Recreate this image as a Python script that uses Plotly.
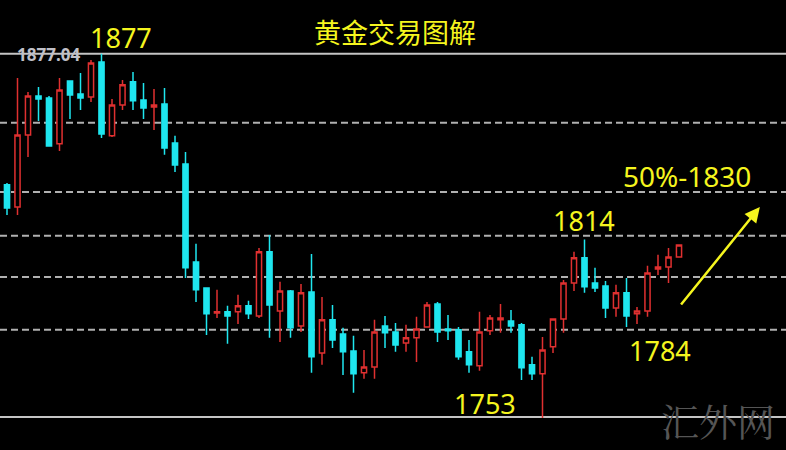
import plotly.graph_objects as go

# Candle data (gold)
opens = [1832.9, 1825.4, 1849.7, 1862.8, 1862.2, 1846.7, 1867.9, 1863.5, 1862.5, 1874.3,
         1849.4, 1859.8, 1867.6, 1861.5, 1859.1, 1860.1, 1847.0, 1839.9, 1806.9, 1798.1,
         1789.7, 1790.1, 1790.1, 1792.1, 1788.7, 1810.3, 1790.4, 1797.1, 1785.3, 1796.8,
         1776.2, 1787.4, 1782.6, 1776.9, 1769.5, 1771.5, 1785.3, 1783.3, 1779.6, 1781.3,
         1785.0, 1792.7, 1784.3, 1784.0, 1776.6, 1771.9, 1783.7, 1787.4, 1787.0, 1785.7,
         1772.2, 1769.2, 1778.3, 1787.7, 1799.8, 1808.3, 1799.8, 1798.8, 1791.4, 1796.5,
         1789.4, 1790.4, 1804.5, 1805.2, 1808.6]
highs = [1833.5, 1868.9, 1864.2, 1865.9, 1862.8, 1868.9, 1867.9, 1870.6, 1875.0, 1877.04,
         1861.8, 1868.2, 1870.9, 1867.2, 1865.2, 1865.5, 1849.4, 1844.0, 1813.0, 1798.1,
         1797.5, 1792.1, 1795.8, 1793.8, 1811.6, 1816.0, 1800.2, 1797.4, 1799.5, 1809.6,
         1795.1, 1792.4, 1784.7, 1782.0, 1777.2, 1787.4, 1788.7, 1786.3, 1785.7, 1788.4,
         1793.4, 1793.4, 1789.0, 1785.0, 1780.6, 1790.1, 1789.0, 1792.7, 1790.7, 1786.3,
         1774.9, 1781.6, 1787.9, 1800.8, 1810.3, 1814.5, 1804.9, 1800.5, 1799.2, 1801.5,
         1791.7, 1805.6, 1809.3, 1811.6, 1812.6]
lows = [1822.7, 1822.7, 1842.3, 1854.4, 1845.7, 1844.3, 1855.1, 1858.1, 1860.8, 1848.7,
        1849.0, 1858.1, 1858.1, 1855.1, 1851.4, 1843.0, 1837.2, 1801.5, 1793.4, 1782.3,
        1788.0, 1779.3, 1786.0, 1787.7, 1788.0, 1781.3, 1779.9, 1781.3, 1783.3, 1769.5,
        1772.2, 1777.9, 1768.8, 1762.8, 1767.5, 1767.5, 1777.9, 1776.6, 1776.6, 1773.2,
        1784.7, 1779.9, 1780.6, 1773.9, 1769.5, 1770.2, 1782.3, 1783.0, 1783.0, 1767.1,
        1767.1, 1754.3, 1776.2, 1783.0, 1797.1, 1796.5, 1796.8, 1788.0, 1788.4, 1785.0,
        1786.0, 1788.4, 1802.5, 1799.8, 1808.4]
closes = [1825.1, 1849.7, 1862.8, 1861.8, 1846.0, 1864.9, 1863.2, 1862.2, 1874.0, 1850.0,
          1859.8, 1866.6, 1861.2, 1858.8, 1859.8, 1845.3, 1839.6, 1804.9, 1797.5, 1789.4,
          1790.1, 1788.7, 1792.1, 1789.4, 1810.3, 1792.4, 1797.1, 1784.7, 1796.5, 1774.9,
          1787.4, 1780.6, 1776.6, 1769.2, 1771.5, 1783.3, 1783.0, 1778.9, 1781.3, 1784.3,
          1792.4, 1783.3, 1783.7, 1774.9, 1772.2, 1783.3, 1788.0, 1788.0, 1785.3, 1771.2,
          1769.2, 1777.2, 1787.7, 1799.8, 1808.3, 1798.5, 1798.1, 1791.4, 1796.5, 1788.7,
          1790.4, 1803.2, 1805.2, 1808.6, 1812.6]
bars = list(range(len(opens)))

dashed_levels = [1853.8, 1830.5, 1815.7, 1801.8, 1784.0]
solid_levels = [1877.04, 1754.6]
high_label = "1877.04"

RED = "#e03030"
CYAN = "#1fe6ef"
YEL = "#f5f51e"

fig = go.Figure()
fig.add_trace(go.Candlestick(
    x=bars, open=opens, high=highs, low=lows, close=closes,
    increasing=dict(line=dict(color=RED, width=1.5), fillcolor="black"),
    decreasing=dict(line=dict(color=CYAN, width=1.5), fillcolor=CYAN),
    whiskerwidth=0, hoverinfo="skip", showlegend=False,
))

shapes = []
for lv in dashed_levels:
    shapes.append(dict(type="line", xref="paper", x0=0, x1=1, yref="y", y0=lv, y1=lv,
                       line=dict(color="#b0b0b0", width=2, dash="7px,4px"), layer="below"))
for lv in solid_levels:
    shapes.append(dict(type="line", xref="paper", x0=0, x1=1, yref="y", y0=lv, y1=lv,
                       line=dict(color="#c4c4c4", width=2), layer="below"))

annotations = [
    dict(text="黄金交易图解", x=395, y=32, font=dict(size=27, color=YEL)),
    dict(text="1877", x=121, y=38, font=dict(size=27, color=YEL)),
    dict(text="1814", x=584, y=221, font=dict(size=27, color=YEL)),
    dict(text="50%-1830", x=687, y=176, font=dict(size=28, color=YEL)),
    dict(text="1784", x=660, y=350, font=dict(size=27, color=YEL)),
    dict(text="1753", x=485, y=403, font=dict(size=27, color=YEL)),
    dict(text="<b>" + high_label + "</b>", x=48, y=54, font=dict(size=17, color="#c0c0c8")),
    dict(text="汇外网", x=718, y=419, font=dict(size=38, color="#555555",
                                            family="Noto Serif CJK SC, Noto Sans CJK SC, serif")),
]
anns = []
for a in annotations:
    d = dict(xref="paper", yref="paper", x=a["x"] / 786, y=1 - a["y"] / 450,
             xanchor="center", yanchor="middle", showarrow=False, text=a["text"],
             font=dict(family=a["font"].get("family", "Noto Sans, Noto Sans CJK SC, sans-serif"),
                       size=a["font"]["size"], color=a["font"]["color"]))
    anns.append(d)

# trend arrow
anns.append(dict(xref="x", yref="y", x=71.7, y=1825.4, ax=-80, ay=99,
                 showarrow=True, arrowhead=2, arrowsize=1.2, arrowwidth=2.5,
                 arrowcolor=YEL, text=""))

fig.update_layout(
    width=786, height=450,
    margin=dict(l=0, r=0, t=0, b=0),
    paper_bgcolor="black", plot_bgcolor="black",
    xaxis=dict(range=[-0.667, 74.19], visible=False, rangeslider=dict(visible=False), fixedrange=True),
    yaxis=dict(range=[1743.5, 1895.2], visible=False, fixedrange=True),
    shapes=shapes, annotations=anns, showlegend=False,
)

fig.write_html("out.html", config={"displayModeBar": False},
               post_script="document.body.style.margin='0';document.body.style.background='black';"
                           "document.body.style.overflow='hidden';")
